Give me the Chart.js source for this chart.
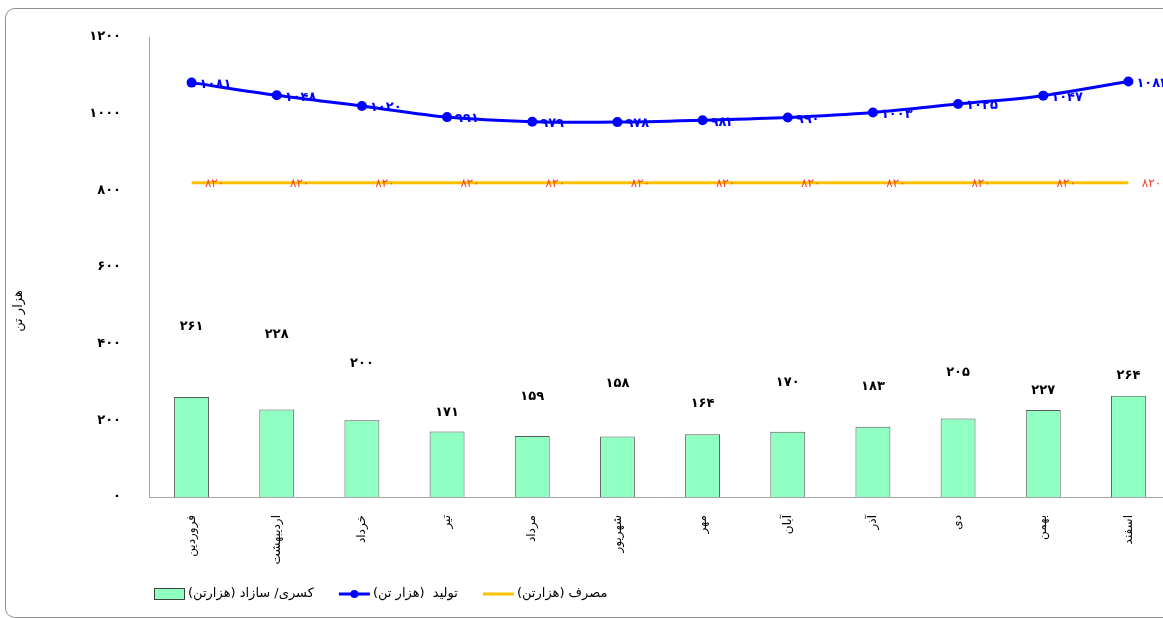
<!DOCTYPE html>
<html>
<head>
<meta charset="utf-8">
<script src="https://cdn.jsdelivr.net/npm/chart.js@4.4.1/dist/chart.umd.min.js"></script>
<style>
  html, body { margin: 0; padding: 0; background: #fff; overflow: hidden; width: 1163px; height: 618px; }
  #frame { position: absolute; left: 5px; top: 8px; width: 1200px; height: 608px; border: 1px solid #8e8e8e; border-radius: 10px; }
  #wrap { position: absolute; left: 0; top: 0; width: 1180px; height: 618px; }
</style>
</head>
<body>
<div id="frame"></div>
<div id="wrap"><canvas id="chart"></canvas></div>
<script>
"use strict";

const MONTHS = ["فروردین", "اردیبهشت", "خرداد", "تیر", "مرداد", "شهریور",
  "مهر", "آبان", "آذر", "دی", "بهمن", "اسفند"];
const DEFICIT = [261, 228, 200, 171, 159, 158, 164, 170, 183, 205, 227, 264];
const PRODUCTION = [1081, 1048, 1020, 991, 979, 978, 983, 990, 1003, 1025, 1047, 1084];
const CONSUMPTION = [820, 820, 820, 820, 820, 820, 820, 820, 820, 820, 820, 820];
const SERIES = ["کسری/ سازاد (هزارتن)", "تولید  (هزار تن)", "مصرف (هزارتن)"];
const Y_TITLE = "هزار تن";

// the bar labels in the original float at uneven heights above the bars (px)
const BAR_LABEL_LIFT = [70, 75, 57, 19, 39, 53, 31, 49, 40, 46, 19, 20];

const FONT = "'DejaVu Sans', sans-serif";
const fa = (n) => String(n).replace(/\d/g, (d) => "۰۱۲۳۴۵۶۷۸۹"[d]);

const valueLabels = {
  id: "valueLabels",
  afterDatasetsDraw(chart) {
    const ctx = chart.ctx;
    ctx.save();
    ctx.textBaseline = "middle";

    ctx.font = "bold 13px " + FONT;
    ctx.fillStyle = "#000";
    ctx.textAlign = "center";
    chart.getDatasetMeta(0).data.forEach((el, i) => {
      ctx.fillText(fa(DEFICIT[i]), el.x, el.y - BAR_LABEL_LIFT[i]);
    });

    ctx.fillStyle = "#0000ff";
    ctx.textAlign = "left";
    chart.getDatasetMeta(1).data.forEach((el, i) => {
      ctx.fillText(fa(PRODUCTION[i]), el.x + 8, el.y + 2);
    });

    ctx.font = "12px " + FONT;
    ctx.fillStyle = "#f2402a";
    ctx.textAlign = "center";
    chart.getDatasetMeta(2).data.forEach((el, i) => {
      ctx.fillText(fa(CONSUMPTION[i]), el.x + 23, el.y + 1);
    });
    ctx.restore();
  },
};

// axis title sits below the middle of the axis in the original, so draw it by hand
const yTitle = {
  id: "yTitle",
  afterDraw(chart) {
    const ctx = chart.ctx;
    ctx.save();
    ctx.translate(19, 311);
    ctx.rotate(-Math.PI / 2);
    ctx.font = "13px " + FONT;
    ctx.fillStyle = "#000";
    ctx.textAlign = "center";
    ctx.textBaseline = "middle";
    ctx.fillText(Y_TITLE, 0, 0);
    ctx.restore();
  },
};

const bottomLegend = {
  id: "bottomLegend",
  afterDraw(chart) {
    const ctx = chart.ctx;
    const y = 594;
    let x = 154;
    ctx.save();
    chart.data.datasets.forEach((ds) => {
      if (ds.type === "bar") {
        ctx.fillStyle = ds.backgroundColor;
        ctx.fillRect(x, y - 6, 31, 12);
        ctx.strokeStyle = "#404040";
        ctx.lineWidth = 1;
        ctx.strokeRect(x + 0.5, y - 5.5, 30, 11);
      } else {
        ctx.strokeStyle = ds.borderColor;
        ctx.lineWidth = 3;
        ctx.beginPath(); ctx.moveTo(x, y); ctx.lineTo(x + 31, y); ctx.stroke();
        if (ds.pointRadius > 0) {
          ctx.fillStyle = ds.borderColor;
          ctx.beginPath(); ctx.arc(x + 15.5, y, 4, 0, Math.PI * 2); ctx.fill();
        }
      }
      x += 34;
      ctx.font = "13px " + FONT;
      ctx.fillStyle = "#000";
      ctx.direction = "rtl";
      ctx.textAlign = "left";
      ctx.textBaseline = "middle";
      ctx.fillText(ds.label, x, y);
      x += ctx.measureText(ds.label).width + 25;
    });
    ctx.restore();
  },
};

new Chart(document.getElementById("chart"), {
  data: {
    labels: MONTHS,
    datasets: [
      { type: "bar", label: SERIES[0], data: DEFICIT, order: 3,
        backgroundColor: "#8fffc2", borderColor: "#5a5a5a", borderWidth: 1,
        barPercentage: 0.41, categoryPercentage: 1 },
      { type: "line", label: SERIES[1], data: PRODUCTION, order: 1,
        borderColor: "#0000ff", backgroundColor: "#0000ff", borderWidth: 3,
        pointRadius: 5, pointBackgroundColor: "#0000ff", pointBorderWidth: 0, tension: 0.3 },
      { type: "line", label: SERIES[2], data: CONSUMPTION, order: 2,
        borderColor: "#ffc000", backgroundColor: "#ffc000", borderWidth: 3,
        pointRadius: 0, tension: 0 },
    ],
  },
  options: {
    responsive: true,
    maintainAspectRatio: false,
    animation: false,
    layout: { padding: { top: 37, right: 9, bottom: 0, left: 0 } },
    plugins: { legend: { display: false }, tooltip: { enabled: false } },
    scales: {
      x: {
        grid: { display: false },
        border: { display: true, color: "#a6a6a6", width: 1 },
        ticks: { autoSkip: false, minRotation: 90, maxRotation: 90, padding: 10,
          color: "#000", font: { family: FONT, size: 12 } },
        afterFit: (s) => { s.height = 121; },
      },
      y: {
        min: 0, max: 1200,
        grid: { display: false },
        border: { display: true, color: "#a6a6a6", width: 1 },
        ticks: { stepSize: 200, padding: 20, color: "#000",
          font: { family: FONT, size: 13, weight: "bold" },
          callback: (v) => fa(v) },
        afterFit: (s) => { s.width = 149; },
      },
    },
  },
  plugins: [valueLabels, yTitle, bottomLegend],
});
</script>
</body>
</html>
